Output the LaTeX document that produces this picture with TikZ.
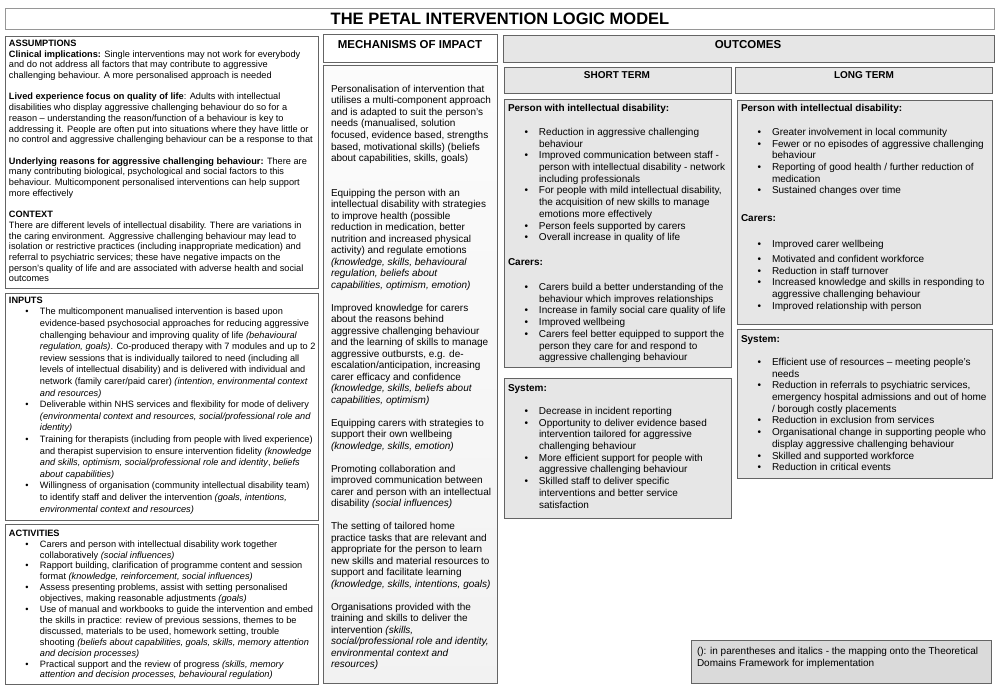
\documentclass[tikz,border=0pt]{standalone}
\usepackage{fontspec}
\setmainfont{Liberation Sans}
\definecolor{bd}{RGB}{100,100,100}
\definecolor{bdl}{RGB}{150,150,150}
\definecolor{fo}{RGB}{230,230,230}
\definecolor{fl}{RGB}{218,218,218}
\newcommand\bu{\makebox[31pt][l]{\hspace{16.5pt}\textbullet}}
\newcommand\bc{\hspace*{31pt}}
\newcommand\bx[6]{\node[box,#6,minimum width={#4-#2},minimum height={#5-#3}] (#1) at (#2,#3) {};}
\newcommand\tx[5]{\node[txt,#4] (#1) at (#2,#3) {\begin{tabular}[t]{@{}l@{}}#5\end{tabular}};}
\tikzset{
  box/.style={draw=bd, line width=0.9pt, anchor=north west, inner sep=0pt, outer sep=0pt},
  txt/.style={anchor=base west, inner sep=0pt, outer sep=0pt},
  hd/.style={anchor=base, inner sep=0pt, font=\fontsize{11.5}{13}\selectfont\bfseries},
  sh/.style={anchor=base, inner sep=0pt, font=\fontsize{10}{12}\selectfont\bfseries},
  fsmall/.style={font=\fontsize{9.2}{#1}\selectfont},
  fbig/.style={font=\fontsize{10}{#1}\selectfont},
}
\begin{document}
\begin{tikzpicture}[x=1pt,y=-1pt]
\useasboundingbox (0,0) rectangle (1000,690);
\fill[white] (0,0) rectangle (1000,690);
% boxes
\bx{titlebox}{5}{8}{994}{29}{draw=bdl}
\bx{assum}{5}{36}{318}{288}{}
\bx{inputs}{5}{293}{318}{520}{}
\bx{activ}{5}{524}{318}{684}{}
\bx{mechhd}{323}{34}{497}{62}{}
\bx{mech}{323}{65}{497}{683}{top color=gray!3,bottom color=gray!10}
\bx{outhd}{503}{35}{994}{62}{fill=fo}
\bx{sthd}{504}{67}{731}{93}{fill=fo}
\bx{lthd}{735}{67}{992}{93}{fill=fo}
\bx{stp}{504}{99}{731}{367}{fill=fo}
\bx{sts}{504}{378}{731}{518}{fill=fo}
\bx{ltp}{737}{100}{992}{324}{fill=fo}
\bx{lts}{737}{329}{992}{478}{fill=fo}
\bx{legend}{691}{640}{991}{683}{fill=fl}
% headings
\node[anchor=base,inner sep=0pt,font=\fontsize{16.5}{18}\selectfont\bfseries] (title) at (500,25) {THE PETAL INTERVENTION LOGIC MODEL};
\node[hd] (mechtitle) at (410,49) {MECHANISMS OF IMPACT};
\node[hd] (outtitle) at (748,49) {OUTCOMES};
\node[sh] (sttitle) at (617,78.6) {SHORT TERM};
\node[sh] (lttitle) at (864,78.6) {LONG TERM};
% assumptions
\tx{assumtxt}{9}{46.5}{fsmall=10.7}{%
\textbf{ASSUMPTIONS}\\
\textbf{Clinical implications:} Single interventions may not work for everybody\\
and do not address all factors that may contribute to aggressive\\
challenging behaviour. A more personalised approach is needed\\
\\
\textbf{Lived experience focus on quality of life}: Adults with intellectual\\
disabilities who display aggressive challenging behaviour do so for a\\
reason – understanding the reason/function of a behaviour is key to\\
addressing it. People are often put into situations where they have little or\\
no control and aggressive challenging behaviour can be a response to that\\
\\
\textbf{Underlying reasons for aggressive challenging behaviour:} There are\\
many contributing biological, psychological and social factors to this\\
behaviour. Multicomponent personalised interventions can help support\\
more effectively\\
\\
\textbf{CONTEXT}\\
There are different levels of intellectual disability. There are variations in\\
the caring environment. Aggressive challenging behaviour may lead to\\
isolation or restrictive practices (including inappropriate medication) and\\
referral to psychiatric services; these have negative impacts on the\\
person’s quality of life and are associated with adverse health and social\\
outcomes}
% inputs
\tx{inputstxt}{9}{303.2}{fsmall=11.6}{%
\textbf{INPUTS}\\
\bu The multicomponent manualised intervention is based upon\\
\bc evidence-based psychosocial approaches for reducing aggressive\\
\bc challenging behaviour and improving quality of life \textit{(behavioural}\\
\bc \textit{regulation, goals)}. Co-produced therapy with 7 modules and up to 2\\
\bc review sessions that is individually tailored to need (including all\\
\bc levels of intellectual disability) and is delivered with individual and\\
\bc network (family carer/paid carer) \textit{(intention, environmental context}\\
\bc \textit{and resources)}\\
\bu Deliverable within NHS services and flexibility for mode of delivery\\
\bc \textit{(environmental context and resources, social/professional role and}\\
\bc \textit{identity)}\\
\bu Training for therapists (including from people with lived experience)\\
\bc and therapist supervision to ensure intervention fidelity \textit{(knowledge}\\
\bc \textit{and skills, optimism, social/professional role and identity}, \textit{beliefs}\\
\bc \textit{about capabilities)}\\
\bu Willingness of organisation (community intellectual disability team)\\
\bc to identify staff and deliver the intervention \textit{(goals, intentions,}\\
\bc \textit{environmental context and resources)}}
% activities
\tx{activtxt}{9}{536.2}{fsmall=10.9}{%
\textbf{ACTIVITIES}\\
\bu Carers and person with intellectual disability work together\\
\bc collaboratively \textit{(social influences)}\\
\bu Rapport building, clarification of programme content and session\\
\bc format \textit{(knowledge, reinforcement, social influences)}\\
\bu Assess presenting problems, assist with setting personalised\\
\bc objectives, making reasonable adjustments \textit{(goals)}\\
\bu Use of manual and workbooks to guide the intervention and embed\\
\bc the skills in practice: review of previous sessions, themes to be\\
\bc discussed, materials to be used, homework setting, trouble\\
\bc shooting \textit{(beliefs about capabilities, goals, skills, memory attention}\\
\bc \textit{and decision processes)}\\
\bu Practical support and the review of progress \textit{(skills, memory}\\
\bc \textit{attention and decision processes, behavioural regulation)}}
% mechanisms
\tx{mechtxt}{331}{92.5}{fbig=11.5}{%
Personalisation of intervention that\\
utilises a multi-component approach\\
and is adapted to suit the person’s\\
needs (manualised, solution\\
focused, evidence based, strengths\\
based, motivational skills) (beliefs\\
about capabilities, skills, goals)\\
\\
\\
Equipping the person with an\\
intellectual disability with strategies\\
to improve health (possible\\
reduction in medication, better\\
nutrition and increased physical\\
activity) and regulate emotions\\
\textit{(knowledge, skills, behavioural}\\
\textit{regulation, beliefs about}\\
\textit{capabilities, optimism, emotion)}\\
\\
Improved knowledge for carers\\
about the reasons behind\\
aggressive challenging behaviour\\
and the learning of skills to manage\\
aggressive outbursts, e.g. de-\\
escalation/anticipation, increasing\\
carer efficacy and confidence\\
\textit{(knowledge, skills, beliefs about}\\
\textit{capabilities, optimism)}\\
\\
Equipping carers with strategies to\\
support their own wellbeing\\
\textit{(knowledge, skills, emotion)}\\
\\
Promoting collaboration and\\
improved communication between\\
carer and person with an intellectual\\
disability \textit{(social influences)}\\
\\
The setting of tailored home\\
practice tasks that are relevant and\\
appropriate for the person to learn\\
new skills and material resources to\\
support and facilitate learning\\
\textit{(knowledge, skills, intentions, goals)}\\
\\
Organisations provided with the\\
training and skills to deliver the\\
intervention \textit{(skills,}\\
\textit{social/professional role and identity,}\\
\textit{environmental context and}\\
\textit{resources)}}
% short term person
\tx{stptxt}{508}{112}{fbig=11.7}{%
\textbf{Person with intellectual disability:}\\
\\
\bu Reduction in aggressive challenging\\
\bc behaviour\\
\bu Improved communication between staff -\\
\bc person with intellectual disability - network\\
\bc including professionals\\
\bu For people with mild intellectual disability,\\
\bc the acquisition of new skills to manage\\
\bc emotions more effectively\\
\bu Person feels supported by carers\\
\bu Overall increase in quality of life\\[1.5pt]
\\
\textbf{Carers:}\\[1.5pt]
\\
\bu Carers build a better understanding of the\\
\bc behaviour which improves relationships\\
\bu Increase in family social care quality of life\\
\bu Improved wellbeing\\
\bu Carers feel better equipped to support the\\
\bc person they care for and respond to\\
\bc aggressive challenging behaviour}
% short term system
\tx{ststxt}{508}{391}{fbig=11.7}{%
\textbf{System:}\\
\\
\bu Decrease in incident reporting\\
\bu Opportunity to deliver evidence based\\
\bc intervention tailored for aggressive\\
\bc challenging behaviour\\
\bu More efficient support for people with\\
\bc aggressive challenging behaviour\\
\bu Skilled staff to deliver specific\\
\bc interventions and better service\\
\bc satisfaction}
% long term person
\tx{ltptxt}{741}{112}{fbig=11.7}{%
\textbf{Person with intellectual disability:}\\
\\
\bu Greater involvement in local community\\
\bu Fewer or no episodes of aggressive challenging\\
\bc behaviour\\
\bu Reporting of good health / further reduction of\\
\bc medication\\
\bu Sustained changes over time\\[4pt]
\\
\textbf{Carers:}\\[3pt]
\\
\bu Improved carer wellbeing\\[3pt]
\bu Motivated and confident workforce\\
\bu Reduction in staff turnover\\
\bu Increased knowledge and skills in responding to\\
\bc aggressive challenging behaviour\\
\bu Improved relationship with person}
% long term system
\tx{ltstxt}{741}{342}{fbig=11.7}{%
\textbf{System:}\\
\\
\bu Efficient use of resources – meeting people’s\\
\bc needs\\
\bu Reduction in referrals to psychiatric services,\\
\bc emergency hospital admissions and out of home\\
\bc / borough costly placements\\
\bu Reduction in exclusion from services\\
\bu Organisational change in supporting people who\\
\bc display aggressive challenging behaviour\\
\bu Skilled and supported workforce\\
\bu Reduction in critical events}
% legend
\tx{legendtxt}{697}{654.5}{fbig=11.7}{%
(): in parentheses and italics - the mapping onto the Theoretical\\
Domains Framework for implementation}
\end{tikzpicture}
\end{document}
